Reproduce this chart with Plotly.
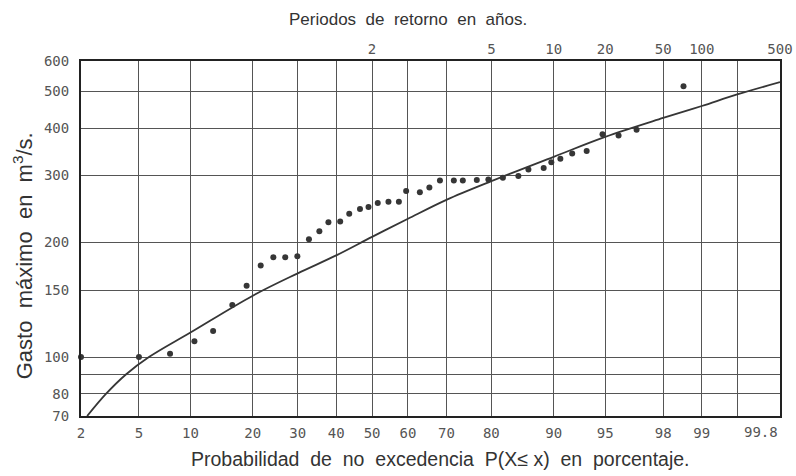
from statistics import NormalDist
import math
import plotly.graph_objects as go

# ---- data ----
prob_pct = [2.0, 5.0, 7.7, 10.5, 13.1, 16.2, 18.8, 21.6, 24.3, 27.0, 29.9,
            32.8, 35.5, 37.9, 41.1, 43.6, 46.6, 49.0, 51.6, 54.6, 57.5,
            59.5, 63.2, 65.7, 68.4, 71.8, 73.9, 77.0, 79.4, 82.2, 84.9,
            86.5, 88.7, 89.7, 90.8, 92.1, 93.5, 94.8, 95.9, 96.9, 98.6]
gasto = [100, 100, 102, 110, 117, 137, 154, 174, 183, 183, 184,
         204, 214, 226, 227, 238, 245, 248, 254, 256, 256,
         273, 271, 279, 291, 291, 291, 292, 293, 296, 299,
         311, 314, 325, 332, 343, 348, 385, 382, 396, 515]

curve_pct = [2.22, 3.02, 4.12, 5.77, 10, 20, 30, 40, 50, 60, 70, 80, 90, 95, 98, 99, 99.5, 99.8]
curve_q = [70, 80, 90, 100, 116, 145, 166, 185, 207, 231, 259, 290, 336, 379, 425, 457, 490, 528]

x_tick_pct = [2, 5, 10, 20, 30, 40, 50, 60, 70, 80, 90, 95, 98, 99]
x_tick_text = ["2", "5", "10", "20", "30", "40", "50", "60", "70", "80", "90",
               "95", "98", "99"]
x_minor_pct = [99.5]          # unlabeled grid line
last_tick_text = "99.8"       # drawn right-aligned at the right border
top_tick_years = [2, 5, 10, 20, 50, 100, 500]
top_tick_text = ["2", "5", "10", "20", "50", "100", "500"]
y_tick_vals = [70, 80, 100, 150, 200, 300, 400, 500, 600]
y_tick_text = ["70", "80", "100", "150", "200", "300", "400", "500", "600"]
y_minor_vals = [90]           # unlabeled grid line

# ---- normal probability scale ----
nd = NormalDist()


def zp(pct):
    return nd.inv_cdf(pct / 100.0)


def zT(T):
    return nd.inv_cdf(1.0 - 1.0 / T)


xrange_ = [zp(2), zp(99.8)]
yrange_ = [math.log10(70), math.log10(600)]

INK = "#363636"
GRID = "#555555"
TICKFONT = dict(family="DejaVu Sans Mono", size=14, color="#555555")
TITLEFONT = "Liberation Sans, Arial, sans-serif"

fig = go.Figure()
fig.add_trace(go.Scatter(
    x=[zp(p) for p in curve_pct], y=curve_q, mode="lines",
    line=dict(color=INK, width=1.8, shape="spline", smoothing=1.0),
    showlegend=False, hoverinfo="skip"))
fig.add_trace(go.Scatter(
    x=[zp(p) for p in prob_pct], y=gasto, mode="markers",
    marker=dict(color=INK, size=6), cliponaxis=False,
    showlegend=False,
    customdata=prob_pct,
    hovertemplate="P=%{customdata}%<br>Q=%{y} m³/s<extra></extra>"))
# invisible trace so the top (return period) axis is drawn
fig.add_trace(go.Scatter(
    x=[zT(t) for t in top_tick_years], y=[None] * len(top_tick_years),
    xaxis="x2", yaxis="y", mode="markers", showlegend=False,
    hoverinfo="skip"))

fig.update_layout(
    width=796, height=476, autosize=False,
    margin=dict(l=81, r=16, t=61, b=60),
    paper_bgcolor="white", plot_bgcolor="white",
    xaxis=dict(range=xrange_, tickmode="array", automargin=False,
               tickvals=[zp(p) for p in x_tick_pct], ticktext=x_tick_text,
               minor=dict(tickmode="array", tickvals=[zp(p) for p in x_minor_pct],
                          showgrid=True, gridcolor=GRID, gridwidth=1.2, ticks=""),
               showgrid=True, gridcolor=GRID, gridwidth=1.2, zeroline=False,
               showline=True, linecolor="#222222", linewidth=2, mirror=True,
               ticks="", tickfont=TICKFONT, ticklabelstandoff=3),
    xaxis2=dict(range=xrange_, overlaying="x", side="top", tickmode="array",
                automargin=False,
                tickvals=[zT(t) for t in top_tick_years], ticktext=top_tick_text,
                showgrid=False, zeroline=False, showline=False, ticks="",
                tickfont=TICKFONT, ticklabelstandoff=3),
    yaxis=dict(type="log", range=yrange_, tickmode="array", automargin=False,
               tickvals=y_tick_vals, ticktext=y_tick_text,
               minor=dict(tickmode="array", tickvals=y_minor_vals,
                          showgrid=True, gridcolor=GRID, gridwidth=1.2, ticks=""),
               showgrid=True, gridcolor=GRID, gridwidth=1.2, zeroline=False,
               showline=True, linecolor="#222222", linewidth=2, mirror=True,
               ticks="", tickfont=TICKFONT, ticklabelstandoff=7),
    annotations=[
        dict(text=last_tick_text, xref="paper", yref="paper", x=1, y=0,
             yshift=-16, xanchor="right", yanchor="middle", showarrow=False,
             font=TICKFONT),
        dict(text="Periodos  de  retorno  en  años.", xref="paper", yref="paper",
             x=0.468, y=1, yshift=42, xanchor="center", yanchor="middle",
             showarrow=False, font=dict(family=TITLEFONT, size=17, color="#333333")),
        dict(text="Probabilidad  de  no  excedencia  P(X≤ x)  en  porcentaje.",
             xref="paper", yref="paper", x=0.5136, y=0, yshift=-43,
             xanchor="center", yanchor="middle", showarrow=False,
             font=dict(family=TITLEFONT, size=19.5, color="#333333")),
        dict(text="Gasto  máximo  en  m<sup>3</sup>/s.", xref="paper", yref="paper",
             x=0, y=0.45, xshift=-58, xanchor="center", yanchor="middle",
             textangle=-90, showarrow=False,
             font=dict(family=TITLEFONT, size=22, color="#333333")),
    ],
)

# remove the page's default body margin so the 796x476 figure fills the window
fig.write_html("out.html",
               config={"displayModeBar": False},
               post_script="document.body.style.margin='0';")
